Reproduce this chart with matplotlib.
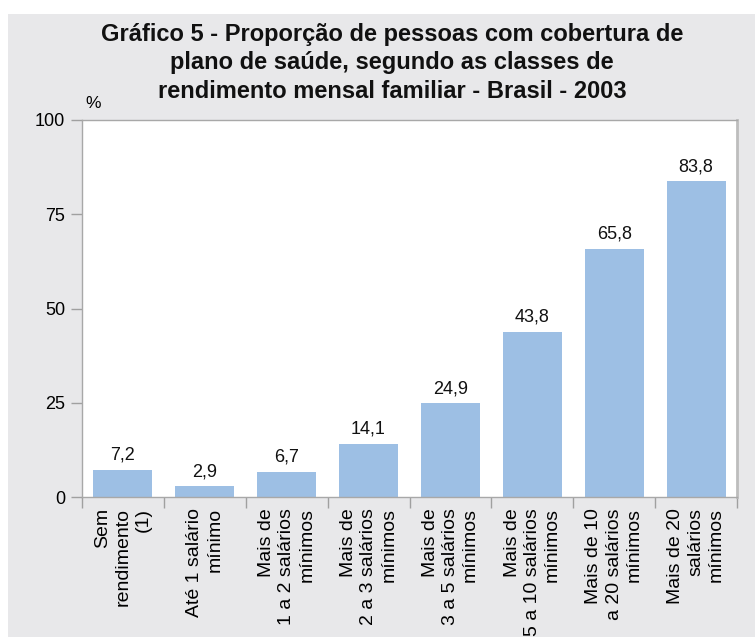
import matplotlib
matplotlib.use("Agg")
import matplotlib.pyplot as plt
from matplotlib.patches import Rectangle

categories = [
    "Sem\nrendimento\n(1)",
    "Até 1 salário\nmínimo",
    "Mais de\n1 a 2 salários\nmínimos",
    "Mais de\n2 a 3 salários\nmínimos",
    "Mais de\n3 a 5 salários\nmínimos",
    "Mais de\n5 a 10 salários\nmínimos",
    "Mais de 10\na 20 salários\nmínimos",
    "Mais de 20\nsalários\nmínimos",
]
values = [7.2, 2.9, 6.7, 14.1, 24.9, 43.8, 65.8, 83.8]
value_labels = ["7,2", "2,9", "6,7", "14,1", "24,9", "43,8", "65,8", "83,8"]
yticks = [0, 25, 50, 75, 100]

plt.rcParams['font.family'] = ["Liberation Sans", "DejaVu Sans"]

W, H = 755, 637
fig = plt.figure(figsize=(W / 100, H / 100), dpi=100, facecolor="white")
bg = "#E8E8EA"
fig.patches.append(Rectangle((8 / W, 0), 1, 1 - 14 / H, transform=fig.transFigure,
                             facecolor=bg, edgecolor="none", zorder=-10))

ax = fig.add_axes([82 / W, 1 - 497 / H, (737 - 82) / W, (497 - 120) / H])
ax.set_facecolor("white")

x = list(range(len(values)))
ax.bar(x, values, width=0.72, color="#9DBFE4", edgecolor="none", zorder=2)
for xi, v, lab in zip(x, values, value_labels):
    ax.text(xi, v + 1.6, lab, ha="center", va="bottom", fontsize=13, color="#111111")

ax.set_xlim(-0.5, len(values) - 0.5)
ax.set_ylim(0, 100)
ax.set_yticks(yticks)
ax.set_yticklabels([str(t) for t in yticks], fontsize=13)
ax.set_xticks(x)
ax.set_xticklabels(categories, rotation=90, fontsize=14, ha="center", va="top",
                   multialignment="right", linespacing=1.25)
ax.tick_params(axis="x", length=0, pad=8)
ax.set_xticks([i + 0.5 for i in range(-1, len(values))], minor=True)
ax.tick_params(axis="x", which="minor", length=8, color="#A0A0A0", width=1)
ax.tick_params(axis="y", length=8, color="#A0A0A0", width=1, pad=4)

for s in ["left", "bottom", "top"]:
    ax.spines[s].set_color("#A8A8A8")
    ax.spines[s].set_linewidth(1)
ax.spines["right"].set_color("#BDBDBD")
ax.spines["right"].set_linewidth(2)

fig.text(93 / W, 1 - 103 / H, "%", ha="center", va="center", fontsize=12.5)

fig.text(392 / W, 1 - 63 / H,
         "Gráfico 5 - Proporção de pessoas com cobertura de\nplano de saúde, segundo as classes de\nrendimento mensal familiar - Brasil - 2003",
         ha="center", va="center", fontsize=17, fontweight="bold",
         linespacing=1.3, color="#111111")

fig.savefig("out.png", dpi=100, facecolor=fig.get_facecolor())
